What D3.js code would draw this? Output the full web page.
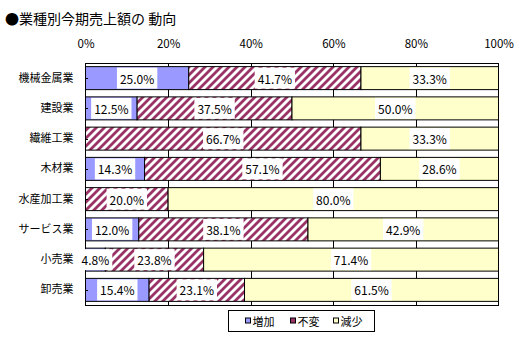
<!DOCTYPE html>
<html>
<head>
<meta charset="utf-8">
<script src="https://cdn.jsdelivr.net/npm/d3@7/dist/d3.min.js"></script>
<style>
  html, body { margin: 0; padding: 0; background: #fff; }
  svg { display: block; }
  text { font-family: "Noto Sans CJK JP", "Noto Sans", sans-serif; fill: #000; }
</style>
</head>
<body>
<svg id="chart" width="520" height="342"></svg>
<script>
// 業種別の今期売上額の動向（回答構成比）
const categories = ["機械金属業", "建設業", "繊維工業", "木材業", "水産加工業", "サービス業", "小売業", "卸売業"];
const increase  = [25.0, 12.5, 0,    14.3, 0,    12.0, 4.8,  15.4];
const unchanged = [41.7, 37.5, 66.7, 57.1, 20.0, 38.1, 23.8, 23.1];
const decrease  = [33.3, 50.0, 33.3, 28.6, 80.0, 42.9, 71.4, 61.5];
const seriesNames = ["増加", "不変", "減少"];
const tickValues = [0, 0.2, 0.4, 0.6, 0.8, 1.0];

const svg = d3.select("#chart");
const plot = { left: 85.5, right: 498.5, top: 63, bottom: 305 };

const x = d3.scaleLinear().domain([0, 1]).range([plot.left, plot.right]);
const y = d3.scaleBand().domain(categories).range([plot.top, plot.bottom])
  .paddingInner(0.24).paddingOuter(0.12);

const fills = ["#9999FF", "url(#hatch)", "#FFFFCC"];

// diagonal hatch for the 「不変」 series
const defs = svg.append("defs");
const pat = defs.append("pattern").attr("id", "hatch")
  .attr("patternUnits", "userSpaceOnUse").attr("width", 8).attr("height", 8);
pat.append("rect").attr("width", 8).attr("height", 8).attr("fill", "#fff");
pat.append("path").attr("d", "M-2,2 L2,-2 M0,8 L8,0 M6,10 L10,6")
  .attr("stroke", "#993366").attr("stroke-width", 2.8);

// rows -> stacked, normalised to 100%
const rows = categories.map((c, i) => ({ cat: c, vals: [increase[i], unchanged[i], decrease[i]] }));
const segs = [];
rows.forEach(r => {
  const total = d3.sum(r.vals);
  let acc = 0;
  r.vals.forEach((v, k) => {
    segs.push({ cat: r.cat, k, v, x0: acc / total, x1: (acc + v) / total });
    acc += v;
  });
});

// title
svg.append("text").attr("x", 5).attr("y", 17.5)
  .attr("dominant-baseline", "central")
  .style("font-size", "14px")
  .text("●業種別今期売上額の 動向");

// percent axis along the top
const xAxis = d3.axisTop(x).tickValues(tickValues).tickSize(0).tickPadding(0)
  .tickFormat(d => Math.round(d * 100) + "%");
const gx = svg.append("g").attr("transform", "translate(0,48)").call(xAxis);
gx.select(".domain").remove();
gx.selectAll("text").style("font-size", "11.5px").style("font-family", null);

// vertical gridlines
svg.append("g").selectAll("line").data(tickValues.slice(1, -1)).join("line")
  .attr("x1", d => Math.round(x(d)) + 0.5).attr("x2", d => Math.round(x(d)) + 0.5)
  .attr("y1", plot.top).attr("y2", plot.bottom)
  .attr("stroke", "#000").attr("stroke-width", 1);

// bars
svg.append("g").selectAll("rect").data(segs.filter(d => d.v > 0)).join("rect")
  .attr("x", d => x(d.x0)).attr("width", d => x(d.x1) - x(d.x0))
  .attr("y", d => y(d.cat)).attr("height", y.bandwidth())
  .attr("fill", d => fills[d.k])
  .attr("stroke", "#000").attr("stroke-width", 1);

// plot frame
svg.append("rect")
  .attr("x", plot.left).attr("y", plot.top + 0.5)
  .attr("width", plot.right - plot.left).attr("height", plot.bottom - plot.top)
  .attr("fill", "none").attr("stroke", "#000").attr("stroke-width", 1);

// small inner tick marks at the category centres
svg.append("g").selectAll("line").data(categories).join("line")
  .attr("x1", plot.left).attr("x2", plot.left + 2.5)
  .attr("y1", d => Math.round(y(d) + y.bandwidth() / 2) + 0.5)
  .attr("y2", d => Math.round(y(d) + y.bandwidth() / 2) + 0.5)
  .attr("stroke", "#000");

// data labels on white boxes
const lbl = svg.append("g").selectAll("g").data(segs.filter(d => d.v > 0)).join("g")
  .attr("transform", d => `translate(${x((d.x0 + d.x1) / 2)},${y(d.cat) + y.bandwidth() / 2})`);
lbl.append("text")
  .attr("text-anchor", "middle").attr("dominant-baseline", "central")
  .style("font-size", "12px")
  .text(d => d.v.toFixed(1) + "%");
lbl.each(function() {
  const g = d3.select(this);
  const bb = g.select("text").node().getBBox();
  g.insert("rect", "text")
    .attr("x", bb.x - 3).attr("width", bb.width + 6)
    .attr("y", -y.bandwidth() / 2 + 1).attr("height", y.bandwidth() - 2)
    .attr("fill", "#fff");
});

// category axis
const yAxis = d3.axisLeft(y).tickSize(0).tickPadding(12);
const gy = svg.append("g").attr("transform", `translate(${plot.left},0)`).call(yAxis);
gy.select(".domain").remove();
gy.selectAll("text").style("font-size", "11px").style("font-family", null);

// legend
const legend = svg.append("g").attr("transform", "translate(228.5,310.5)");
legend.append("rect").attr("width", 146).attr("height", 21)
  .attr("fill", "#fff").attr("stroke", "#000");
const legendX = [17, 62, 105];
const items = legend.selectAll("g").data(seriesNames).join("g")
  .attr("transform", (d, i) => `translate(${legendX[i]},10.5)`);
items.append("rect").attr("x", 0).attr("y", -3).attr("width", 5).attr("height", 5)
  .attr("fill", (d, i) => i === 1 ? "#993366" : fills[i])
  .attr("stroke", "#000").attr("stroke-width", 1);
items.append("text").attr("x", 7).attr("y", 0)
  .attr("dominant-baseline", "central")
  .style("font-size", "11px")
  .text(d => d);
</script>
</body>
</html>
